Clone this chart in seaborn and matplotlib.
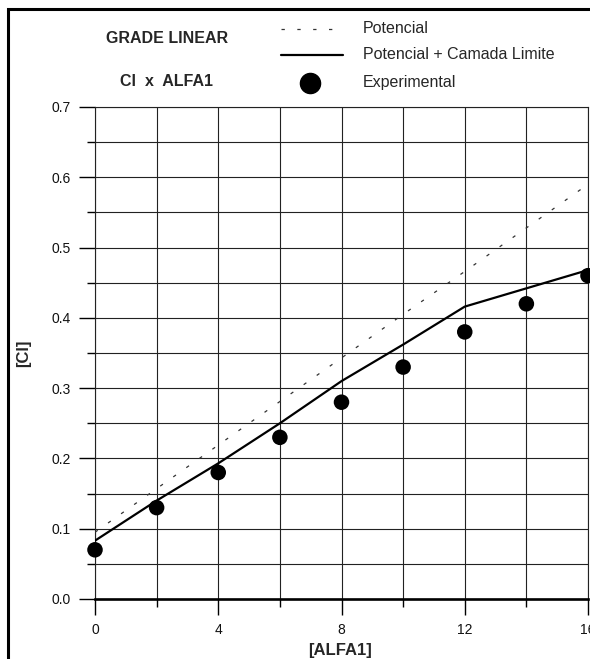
import matplotlib
matplotlib.use("Agg")
import matplotlib.pyplot as plt
from matplotlib.lines import Line2D
from matplotlib.patches import Rectangle
import seaborn as sns
import pandas as pd

# Angle of attack (deg) and lift coefficient
alfa = [0, 2, 4, 6, 8, 10, 12, 14, 16]
cl_potencial = [0.095, 0.157, 0.219, 0.281, 0.343, 0.405, 0.466, 0.528, 0.590]
cl_camada = [0.083, 0.140, 0.193, 0.250, 0.310, 0.362, 0.416, 0.442, 0.468]
cl_experimental = [0.07, 0.13, 0.18, 0.23, 0.28, 0.33, 0.38, 0.42, 0.46]

x_major = [0, 4, 8, 12, 16]
x_minor = [2, 6, 10, 14]
y_major = [0.0, 0.1, 0.2, 0.3, 0.4, 0.5, 0.6, 0.7]
y_minor = [0.05, 0.15, 0.25, 0.35, 0.45, 0.55, 0.65]

df = pd.DataFrame({
    "alfa": alfa,
    "potencial": cl_potencial,
    "camada": cl_camada,
    "experimental": cl_experimental,
})

sns.set_theme(style="white")
plt.rcParams["font.family"] = ["Liberation Sans", "DejaVu Sans"]
plt.rcParams["lines.scale_dashes"] = False

W, H = 590, 659
fig = plt.figure(figsize=(W / 100, H / 100), dpi=100)
fig.patch.set_facecolor("white")

def fx(px):
    return px / W

def fy(py):
    return 1 - py / H

ax = fig.add_axes([fx(95), fy(599), (588 - 95) / W, (599 - 107) / H])
ax.set_facecolor("white")

dash = (0, (2.4, 9.1))
sns.lineplot(data=df, x="alfa", y="potencial", ax=ax, color="#333333",
             lw=0.9, linestyle=dash, zorder=3)
sns.lineplot(data=df, x="alfa", y="camada", ax=ax, color="black",
             lw=1.6, zorder=4)
sns.scatterplot(data=df, x="alfa", y="experimental", ax=ax, color="black",
                s=125, edgecolor="none", zorder=5, clip_on=False)

ax.set_xlim(0, 16)
ax.set_ylim(0, 0.7)
ax.set_xticks(x_major)
ax.set_xticks(x_minor, minor=True)
ax.set_yticks(y_major)
ax.set_yticks(y_minor, minor=True)
ax.set_xticklabels([str(v) for v in x_major])
ax.set_yticklabels([f"{v:.1f}" for v in y_major])

ax.grid(True, which="both", color="#222222", lw=0.8)
ax.set_axisbelow(True)
ax.tick_params(axis="both", which="major", direction="out", length=11.5,
               width=1.0, color="black", labelsize=10, labelcolor="#111111",
               bottom=True, left=True, pad=6)
ax.tick_params(axis="both", which="minor", direction="out", length=5.8,
               width=1.0, color="black", bottom=True, left=True)

for side in ["top", "right", "left"]:
    ax.spines[side].set_linewidth(0.8)
    ax.spines[side].set_color("#222222")
ax.spines["bottom"].set_linewidth(1.9)
ax.spines["bottom"].set_color("black")

ax.set_ylabel("[Cl]", fontsize=12, fontweight="bold")
ax.yaxis.set_label_coords((24 - 95) / 493, (599 - 353) / 492)
ax.set_xlabel("[ALFA1]", fontsize=12, fontweight="bold")
ax.xaxis.set_label_coords((340 - 95) / 493, (599 - 650) / 492)
ax.xaxis.label.set_verticalalignment("center")
ax.yaxis.label.set_verticalalignment("center")

# Title block
fig.text(fx(167), fy(38.5), "GRADE LINEAR", ha="center", va="center",
         fontsize=11.5, fontweight="bold")
fig.text(fx(166), fy(81), "Cl  x  ALFA1", ha="center", va="center",
         fontsize=11.5, fontweight="bold")

# Key
fig.add_artist(Line2D([fx(281), fx(344)], [fy(29), fy(29)], color="#333333",
                      lw=0.9, linestyle=(0, (2.4, 9.0))))
fig.add_artist(Line2D([fx(281), fx(343)], [fy(54.5), fy(54.5)], color="black",
                      lw=1.6))
fig.add_artist(Line2D([fx(310)], [fy(83)], marker="o", markersize=14.5,
                      color="black", linestyle="none"))
fig.text(fx(363), fy(28.5), "Potencial", ha="left", va="center", fontsize=11.5)
fig.text(fx(363), fy(54.5), "Potencial + Camada Limite", ha="left",
         va="center", fontsize=11.5)
fig.text(fx(363), fy(82), "Experimental", ha="left", va="center",
         fontsize=11.5)

# Outer frame
fig.add_artist(Rectangle((fx(7.5), -0.2), 1.5, fy(9) + 0.2,
                         transform=fig.transFigure, fill=False,
                         edgecolor="black", lw=2.2))

fig.savefig("out.png", dpi=100, facecolor="white")
